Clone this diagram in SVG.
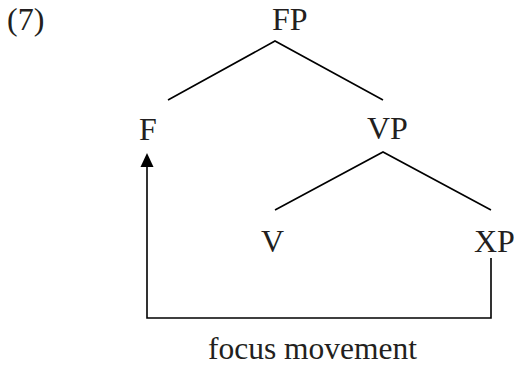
<svg xmlns="http://www.w3.org/2000/svg" width="514" height="366" viewBox="0 0 514 366">
<style>
text{font-family:"Liberation Serif","Times New Roman",serif;font-size:32px;fill:#231f20}
.l{stroke:#000;stroke-width:1.6;fill:none}
</style>
<rect width="514" height="366" fill="#fff"/>
<text id="ex" x="7" y="30">(7)</text>
<g id="FP"><text x="272" y="30">FP</text></g>
<g id="F"><text x="139" y="140">F</text></g>
<g id="VP"><text x="367" y="139">VP</text></g>
<g id="V"><text x="261" y="252">V</text></g>
<g id="XP"><text x="474" y="252">XP</text></g>
<g id="connectors">
<polyline class="l" points="168,100 275,41 383,100"/>
<polyline class="l" points="275,210 383,152 491,210"/>
<polyline class="l" points="491,258 491,318 147,318 147,165"/>
<path d="M140.5,167 L147,153 L153.5,167 Z" fill="#000"/>
</g>
<text id="label" x="208" y="359" style="font-size:31.5px">focus movement</text>
</svg>
